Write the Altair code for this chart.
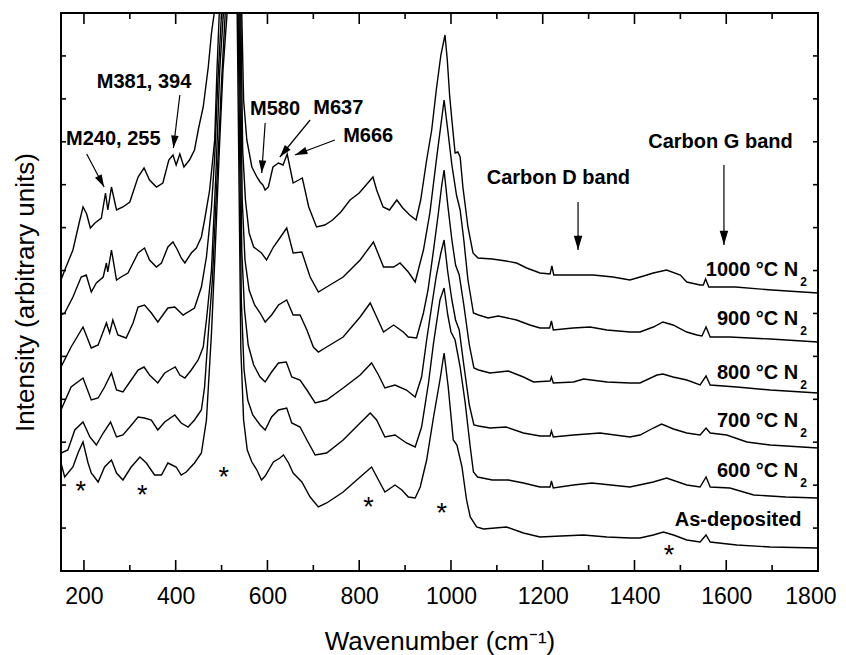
import math
import altair as alt
import pandas as pd

W, H = 757, 558
XMIN, XMAX = 150, 1800
FONT = "Liberation Sans"

# Raman spectra (wavenumber, intensity in arbitrary units, curves stacked with offsets)
s_1000 = [(150,291),(160,303),(176,321),(190,349),(198,364),(206,357),(214,343),(224,348),(238,353),(247,378),(252,361),(260,384),(271,361),(285,364),(300,369),(318,394),(331,403),(343,391),(358,384),(372,388),(385,411),(394,416),(401,406),(409,417),(418,404),(430,411),(441,421),(450,443),(460,464),(471,504),(478,538),(484,558),(523,2571),(544,558),(548,471),(555,431),(566,404),(577,394),(584,389),(590,386),(595,381),(602,384),(612,404),(624,408),(634,406),(643,417),(656,388),(668,391),(676,393),(690,364),(707,344),(725,346),(742,351),(760,359),(780,371),(800,378),(815,386),(830,394),(838,381),(852,364),(866,361),(882,371),(895,363),(910,356),(924,351),(934,371),(947,411),(958,441),(968,481),(978,516),(987,536),(992,511),(997,476),(1002,451),(1009,418),(1015,419),(1020,414),(1026,384),(1037,344),(1048,318),(1059,313),(1090,312),(1120,310),(1143,308),(1165,303),(1194,298),(1216,297),(1220,305),(1224,296),(1266,296),(1310,296),(1353,294),(1390,291),(1420,295),(1441,298),(1470,301),(1500,296),(1514,289),(1543,286),(1550,286),(1555,292),(1562,284),(1620,284),(1700,281),(1800,278)]
s_900 = [(150,256),(158,258),(176,274),(194,294),(205,296),(216,279),(227,288),(242,294),(249,308),(252,299),(260,321),(271,291),(281,294),(296,298),(318,318),(332,323),(343,311),(358,304),(369,308),(383,324),(394,329),(404,321),(412,313),(420,308),(434,318),(445,323),(456,334),(463,351),(474,381),(485,431),(490,501),(495,558),(523,2571),(542,558),(546,421),(552,371),(560,338),(570,324),(587,318),(598,311),(613,324),(627,333),(642,343),(656,318),(675,319),(693,294),(711,279),(729,284),(765,294),(802,311),(831,329),(853,304),(875,304),(889,308),(907,299),(922,289),(940,321),(954,358),(969,414),(978,446),(985,471),(993,441),(1002,406),(1012,376),(1020,361),(1028,331),(1037,291),(1049,258),(1060,256),(1081,253),(1103,255),(1143,251),(1172,246),(1194,243),(1215,243),(1219,250),(1223,241),(1266,243),(1303,244),(1340,241),(1390,239),(1412,239),(1441,244),(1462,249),(1484,246),(1514,239),(1536,236),(1547,235),(1556,244),(1565,234),(1608,234),(1696,232),(1800,229)]
s_800 = [(150,204),(172,224),(198,244),(216,223),(231,226),(249,248),(256,238),(263,251),(274,236),(292,233),(307,248),(318,264),(332,266),(347,258),(361,249),(383,263),(398,264),(416,256),(441,263),(456,284),(467,314),(478,364),(485,414),(492,491),(500,558),(523,2571),(540,558),(545,371),(551,311),(560,281),(572,266),(584,258),(595,249),(609,256),(624,266),(642,271),(656,256),(671,256),(686,241),(700,224),(711,219),(729,224),(765,234),(802,254),(824,268),(838,254),(853,239),(875,246),(896,239),(907,234),(925,233),(940,258),(950,281),(962,321),(972,356),(980,386),(985,401),(993,366),(1002,331),(1010,306),(1018,296),(1028,266),(1040,226),(1050,203),(1060,201),(1085,198),(1125,200),(1158,194),(1180,189),(1216,190),(1219,194),(1223,188),(1267,189),(1289,192),(1340,189),(1390,188),(1412,188),(1449,196),(1462,197),(1484,194),(1514,191),(1543,186),(1556,195),(1565,186),(1623,184),(1696,181),(1800,178)]
s_700 = [(150,161),(172,184),(198,193),(216,171),(231,173),(245,184),(260,198),(271,181),(285,179),(300,189),(318,201),(331,204),(343,196),(361,188),(376,198),(387,201),(399,204),(409,196),(420,193),(434,201),(449,211),(460,224),(467,251),(478,301),(488,401),(496,501),(504,558),(523,2571),(538,558),(544,321),(550,261),(558,226),(570,206),(584,194),(595,189),(609,199),(624,208),(641,209),(653,194),(671,191),(686,181),(704,168),(729,171),(765,183),(802,196),(827,208),(842,196),(856,183),(878,186),(903,181),(922,174),(936,194),(947,231),(958,265),(968,295),(978,318),(985,331),(993,299),(1002,271),(1010,251),(1018,241),(1028,206),(1040,166),(1050,146),(1060,145),(1085,143),(1120,144),(1158,138),(1194,135),(1216,135),(1219,140),(1223,134),(1267,136),(1325,138),(1390,134),(1412,136),(1441,143),(1459,147),(1485,142),(1514,138),(1543,136),(1556,143),(1565,138),(1601,136),(1645,129),(1696,126),(1800,123)]
s_600 = [(150,118),(165,121),(180,141),(198,149),(213,134),(227,126),(242,138),(258,149),(271,134),(285,136),(300,144),(318,154),(332,153),(347,151),(361,141),(376,149),(398,156),(412,148),(427,144),(441,151),(456,161),(463,184),(470,231),(480,291),(490,391),(500,490),(508,558),(523,2571),(536,558),(543,271),(549,201),(557,171),(568,156),(584,146),(595,141),(609,154),(624,161),(642,163),(653,148),(671,144),(686,131),(704,116),(729,118),(765,131),(802,148),(824,158),(838,151),(856,134),(878,136),(903,128),(922,124),(936,144),(951,188),(962,228),(976,271),(985,283),(993,256),(1000,239),(1009,231),(1020,204),(1031,168),(1042,124),(1049,99),(1058,94),(1090,91),(1125,91),(1158,88),(1194,84),(1216,84),(1219,90),(1223,83),(1267,86),(1307,88),(1390,84),(1441,89),(1470,93),(1514,86),(1543,84),(1556,94),(1565,84),(1608,83),(1660,76),(1730,74),(1800,73)]
s_asdep = [(150,108),(158,94),(176,104),(187,118),(198,129),(209,108),(216,98),(231,89),(245,104),(260,111),(271,98),(285,91),(303,104),(322,114),(336,108),(354,96),(369,96),(383,108),(401,104),(412,96),(423,99),(441,108),(456,118),(467,151),(478,238),(486,320),(495,420),(503,500),(512,558),(523,2571),(534,558),(542,221),(548,151),(556,121),(566,109),(577,101),(587,91),(595,95),(613,109),(627,113),(635,116),(646,108),(656,98),(675,89),(693,74),(711,64),(729,68),(765,79),(802,94),(827,104),(842,91),(856,79),(878,86),(893,81),(907,74),(922,73),(933,84),(947,111),(962,154),(976,191),(985,218),(994,184),(1005,131),(1013,126),(1024,104),(1034,71),(1042,54),(1056,44),(1071,42),(1121,44),(1158,38),(1194,34),(1240,35),(1289,36),(1340,34),(1390,33),(1412,33),(1441,36),(1463,39),(1485,36),(1514,31),(1543,29),(1556,36),(1565,29),(1623,26),(1696,24),(1800,23)]

series = [("1000", s_1000), ("900", s_900), ("800", s_800),
          ("700", s_700), ("600", s_600), ("as-deposited", s_asdep)]

# tick labels / tick positions
x_major = [200, 400, 600, 800, 1000, 1200, 1400, 1600, 1800]
x_minor = [300, 500, 700, 900, 1100, 1300, 1500, 1700]
y_ticks = [round(k * H / 13, 2) for k in range(1, 13)]

# curve labels
temp_text = ["1000 °C N", "900 °C N", "800 °C N", "700 °C N", "600 °C N"]
temp_y = [301, 252, 198, 150, 100]
temp_x = 1757
asdep_label = ("As-deposited", 1764, 51)

# peak annotations (left x, centre y)
ann_text = ["M240, 255", "M381, 394", "M580", "M637", "M666", "Carbon D band", "Carbon G band"]
ann_x = [161, 228, 562, 700, 765, 1078, 1430]
ann_y = [432, 489, 462, 463, 435, 393, 429]

# arrows: tail (x1,y1) -> head (x2,y2)
arr_x1 = [206, 409, 595, 693, 747, 1277, 1595]
arr_y1 = [417, 476, 448, 451, 431, 369, 406]
arr_x2 = [244, 395, 587.5, 627, 660, 1277, 1595]
arr_y2 = [384, 423, 398, 414, 416, 321, 326]
arr_head = [620, 620, 620, 620, 620, 800, 800]

# substrate / reference peaks marked with *
star_x = [193, 327, 505, 820, 980, 1475]
star_y = [86, 82, 100, 70, 64, 22]

rows = []
for name, pts in series:
    for wn, v in pts:
        rows.append({"series": name, "wn": wn, "h": v})
df = pd.DataFrame(rows)

xsc = alt.Scale(domain=[XMIN, XMAX], nice=False, zero=False)
ysc = alt.Scale(domain=[0, H], nice=False, zero=False)

XAX = alt.Axis(
    values=x_major, format="d", ticks=False, tickSize=0, domain=False, grid=False,
    labelFont=FONT, labelFontSize=23, labelColor="black", labelPadding=32,
    labelBaseline="alphabetic", labelFlush=1, labelFlushOffset=18, labelOverlap=False,
    title="Wavenumber (cm\u207b\u00b9)", titleFont=FONT, titleFontSize=26,
    titleFontWeight="normal", titleColor="black", titleY=78, titleBaseline="alphabetic")
YAX = alt.Axis(
    labels=False, ticks=False, domain=False, grid=False,
    title="Intensity (arbitrary units)", titleFont=FONT, titleFontSize=26,
    titleFontWeight="normal", titleColor="black", titleX=-28, titleBaseline="alphabetic")


def X(field):
    return alt.X(field, type="quantitative", scale=xsc, axis=XAX)


def Y(field):
    return alt.Y(field, type="quantitative", scale=ysc, axis=YAX)


lines = alt.Chart(df).mark_line(clip=True, color="black", strokeWidth=1.4).encode(
    x=X("wn"), y=Y("h"), detail="series:N")

dmaj = pd.DataFrame({"wn": x_major})
dmin = pd.DataFrame({"wn": x_minor})
dyt = pd.DataFrame({"h": y_ticks})
tick_style = dict(color="black", strokeWidth=1.6)
ticks = [
    alt.Chart(dmaj).mark_rule(**tick_style).encode(x=X("wn"), y=alt.value(H), y2=alt.value(H - 11)),
    alt.Chart(dmaj).mark_rule(**tick_style).encode(x=X("wn"), y=alt.value(0), y2=alt.value(11)),
    alt.Chart(dmin).mark_rule(**tick_style).encode(x=X("wn"), y=alt.value(H), y2=alt.value(H - 6)),
    alt.Chart(dmin).mark_rule(**tick_style).encode(x=X("wn"), y=alt.value(0), y2=alt.value(6)),
    alt.Chart(dyt).mark_rule(**tick_style).encode(y=Y("h"), x=alt.value(0), x2=alt.value(5)),
    alt.Chart(dyt).mark_rule(**tick_style).encode(y=Y("h"), x=alt.value(W), x2=alt.value(W - 5)),
]

dtemp = pd.DataFrame({"t": temp_text, "x": temp_x, "y": temp_y})
dsub = pd.DataFrame({"t": ["2"] * len(temp_y), "x": temp_x, "y": [v - 12 for v in temp_y]})
dasd = pd.DataFrame({"t": [asdep_label[0]], "x": [asdep_label[1]], "y": [asdep_label[2]]})
dann = pd.DataFrame({"t": ann_text, "x": ann_x, "y": ann_y})
dstar = pd.DataFrame({"t": ["*"] * len(star_x), "x": star_x, "y": star_y})

bold = dict(font=FONT, fontWeight="bold", color="black", baseline="middle")

temps = alt.Chart(dtemp).mark_text(align="right", fontSize=20, **bold).encode(x=X("x"), y=Y("y"), text="t:N")
subs = alt.Chart(dsub).mark_text(align="left", dx=2, fontSize=12, **bold).encode(x=X("x"), y=Y("y"), text="t:N")
asd = alt.Chart(dasd).mark_text(align="right", fontSize=20, **bold).encode(x=X("x"), y=Y("y"), text="t:N")
anns = alt.Chart(dann).mark_text(align="left", fontSize=20, **bold).encode(x=X("x"), y=Y("y"), text="t:N")
stars = alt.Chart(dstar).mark_text(align="center", baseline="middle", fontSize=27, dy=7,
                                   font=FONT, color="black").encode(x=X("x"), y=Y("y"), text="t:N")

px_per_wn = W / (XMAX - XMIN)
ang = [math.degrees(math.atan2((b - a) * px_per_wn, d - c)) % 360
       for a, b, c, d in zip(arr_x1, arr_x2, arr_y1, arr_y2)]
darr = pd.DataFrame({"x1": arr_x1, "y1": arr_y1, "x2": arr_x2, "y2": arr_y2,
                     "ang": ang, "sz": arr_head})
arr_lines = alt.Chart(darr).mark_rule(color="black", strokeWidth=1.2).encode(
    x=X("x1"), y=Y("y1"), x2="x2:Q", y2="y2:Q")
arr_heads = alt.Chart(darr).mark_point(
    shape="M0,0L0.3,1L-0.3,1Z", filled=True, color="black", opacity=1, strokeWidth=0).encode(
    x=X("x2"), y=Y("y2"),
    angle=alt.Angle("ang:Q", scale=None), size=alt.Size("sz:Q", scale=None, legend=None))

chart = alt.layer(lines, *ticks, arr_lines, arr_heads, temps, subs, asd, anns, stars).properties(
    width=W, height=H,
    background="white",
    autosize=alt.AutoSizeParams(type="none"),
    padding={"left": 53, "top": 5, "right": 20, "bottom": 84},
).configure_view(stroke="black", strokeWidth=2)

chart.save("out.html", embed_options={"renderer": "svg", "actions": False})
